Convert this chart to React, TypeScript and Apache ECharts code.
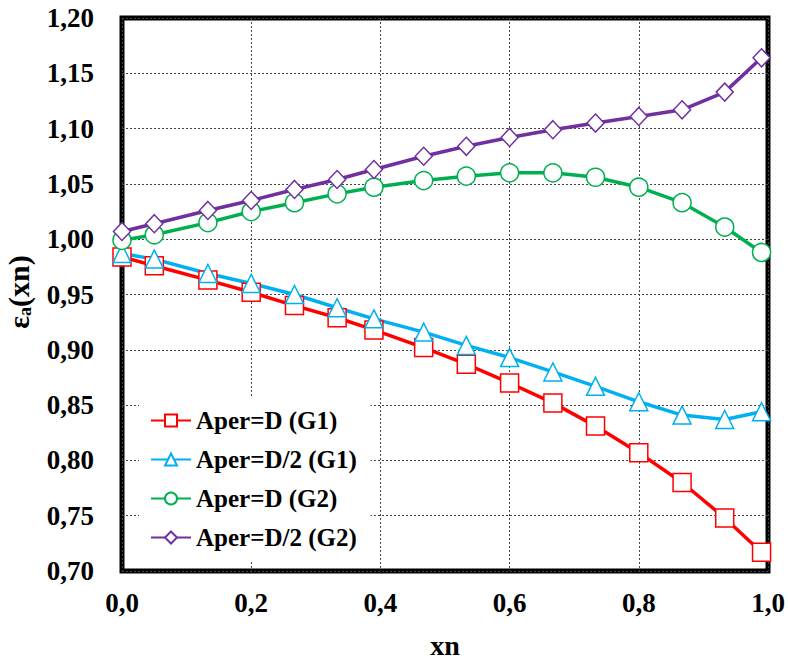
import React, { useEffect, useRef } from "react";
import * as echarts from "echarts";

const xn = [0, 0.05, 0.133, 0.2, 0.267, 0.333, 0.39, 0.467, 0.533, 0.6, 0.667, 0.733, 0.8, 0.867, 0.933, 0.99];
const g1D = [0.984, 0.976, 0.963, 0.952, 0.940, 0.929, 0.918, 0.902, 0.887, 0.870, 0.852, 0.831, 0.807, 0.780, 0.748, 0.717];
const g1D2 = [0.987, 0.982, 0.969, 0.960, 0.950, 0.938, 0.928, 0.916, 0.904, 0.893, 0.880, 0.867, 0.853, 0.841, 0.837, 0.844];
const g2D = [0.999, 1.004, 1.015, 1.025, 1.033, 1.041, 1.047, 1.053, 1.057, 1.060, 1.060, 1.056, 1.047, 1.033, 1.011, 0.988];
const g2D2 = [1.007, 1.014, 1.026, 1.035, 1.045, 1.054, 1.063, 1.075, 1.084, 1.092, 1.099, 1.105, 1.111, 1.117, 1.133, 1.164];
const seriesNames = ["Aper=D (G1)", "Aper=D/2 (G1)", "Aper=D (G2)", "Aper=D/2 (G2)"];

const FONT = "Times New Roman, Liberation Serif, DejaVu Serif, serif";

export default function App() {
  const ref = useRef<HTMLDivElement>(null);
  useEffect(() => {
    if (!ref.current) return;
    const chart = echarts.init(ref.current, null, { renderer: "svg" });
    const mk = (name: string, vals: number[], color: string, symbol: string, size: any) => ({
      name,
      type: "line",
      data: xn.map((x, i) => [x, vals[i]]),
      color,
      symbol,
      symbolSize: size,
      showSymbol: true,
      clip: false,
      lineStyle: { color, width: 3.5 },
      itemStyle: { color: "#fff", borderColor: color, borderWidth: 1.5 },
      z: 3,
    });
    chart.setOption({
      animation: false,
      backgroundColor: "#fff",
      textStyle: { fontFamily: FONT },
      grid: {
        left: 122,
        top: 18,
        right: 20,
        bottom: 90,
        show: true,
        borderColor: "#000",
        borderWidth: 5,
        backgroundColor: "transparent",
      },
      xAxis: {
        type: "value",
        min: 0,
        max: 1,
        interval: 0.2,
        axisLine: { show: false },
        axisTick: { show: false },
        splitLine: { show: true, lineStyle: { color: "#444", width: 1, type: [2, 2] } },
        axisLabel: {
          margin: 18,
          fontFamily: FONT,
          fontWeight: "bold",
          fontSize: 27,
          color: "#000",
          formatter: (v: number) => v.toFixed(1).replace(".", ","),
        },
      },
      yAxis: {
        type: "value",
        min: 0.7,
        max: 1.2,
        interval: 0.05,
        axisLine: { show: false },
        axisTick: { show: false },
        splitLine: { show: true, lineStyle: { color: "#444", width: 1, type: [2, 2] } },
        axisLabel: {
          margin: 28,
          fontFamily: FONT,
          fontWeight: "bold",
          fontSize: 27,
          color: "#000",
          formatter: (v: number) => v.toFixed(2).replace(".", ","),
        },
      },
      legend: {
        orient: "vertical",
        left: 139,
        top: 398,
        data: seriesNames,
        backgroundColor: "#fff",
        padding: [10, 14, 10, 11],
        itemWidth: 40,
        itemHeight: 15,
        itemGap: 14,
        textStyle: {
          fontFamily: FONT,
          fontWeight: "bold",
          fontSize: 25,
          color: "#000",
        },
        z: 5,
      },
      graphic: [
        {
          type: "text",
          x: 445,
          y: 645,
          style: {
            text: "xn",
            fontFamily: FONT,
            fontWeight: "bold",
            fontSize: 28,
            fill: "#000",
            align: "center",
            verticalAlign: "middle",
          },
        },
        {
          type: "text",
          x: 18,
          y: 292,
          rotation: Math.PI / 2,
          style: {
            text: "{e|ε}{s|a}{e|(xn)}",
            align: "center",
            verticalAlign: "middle",
            fill: "#000",
            fontFamily: FONT,
            fontWeight: "bold",
            fontSize: 30,
            rich: {
              e: { fontFamily: FONT, fontWeight: "bold", fontSize: 30, lineHeight: 32, fill: "#000" },
              s: { fontFamily: FONT, fontWeight: "bold", fontSize: 18, lineHeight: 32, fill: "#000", verticalAlign: "bottom", padding: [12, 0, 0, 0] },
            },
          },
        },
      ],
      series: [
        mk(seriesNames[0], g1D, "#FF0000", "rect", 18),
        mk(seriesNames[1], g1D2, "#00B0F0", "triangle", 18),
        mk(seriesNames[2], g2D, "#00B050", "circle", 18),
        mk(seriesNames[3], g2D2, "#7030A0", "diamond", [17, 18]),
      ],
    });
    return () => chart.dispose();
  }, []);
  return (
    <div
      ref={ref}
      style={{ position: "fixed", left: 0, top: 0, width: 788, height: 661 }}
    />
  );
}
